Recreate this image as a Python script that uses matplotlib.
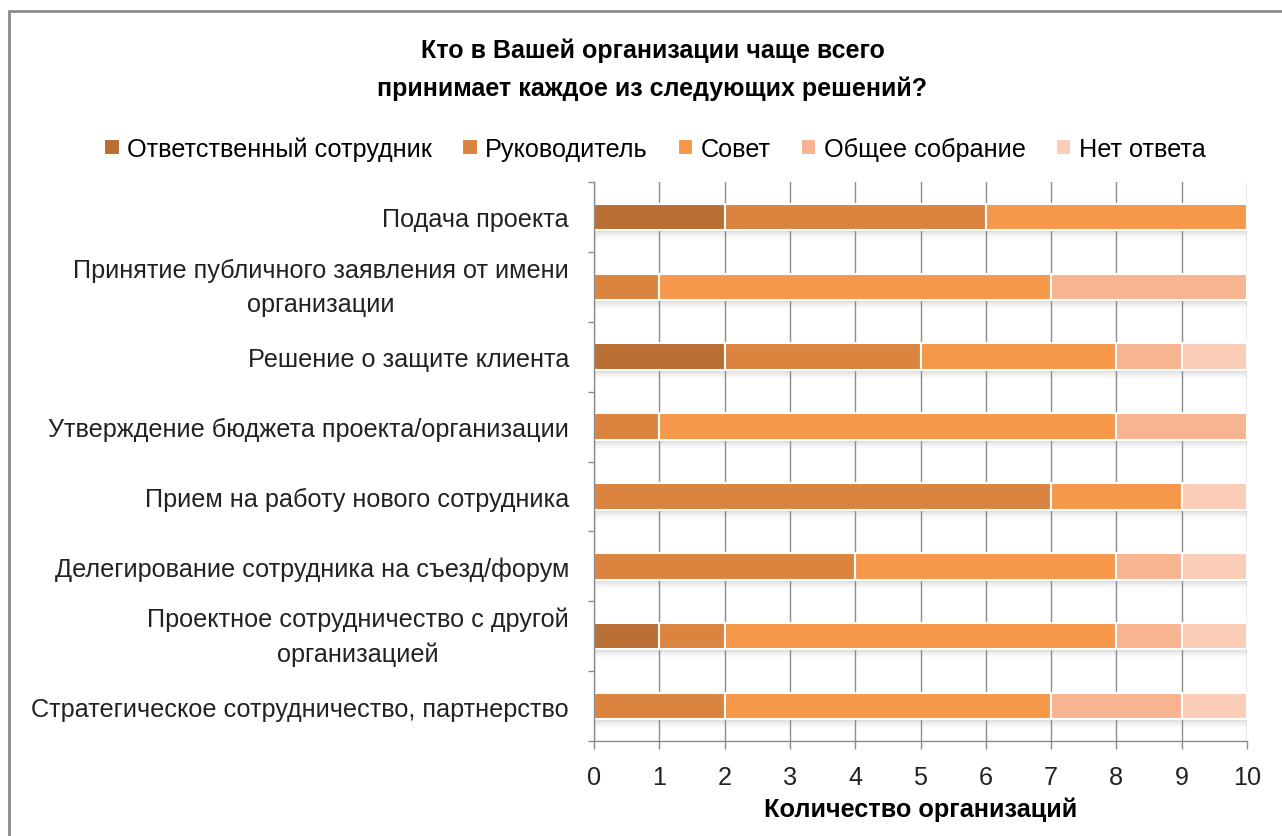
import matplotlib.pyplot as plt
import numpy as np
from matplotlib.patches import Rectangle

plt.rcParams["font.family"] = ["Liberation Sans", "DejaVu Sans"]

categories = [
    "Подача проекта",
    "Принятие публичного заявления от имени\nорганизации",
    "Решение о защите клиента",
    "Утверждение бюджета проекта/организации",
    "Прием на работу нового сотрудника",
    "Делегирование сотрудника на съезд/форум",
    "Проектное сотрудничество с другой\nорганизацией",
    "Стратегическое сотрудничество, партнерство",
]
series_names = ["Ответственный сотрудник", "Руководитель", "Совет", "Общее собрание", "Нет ответа"]
responsible = [2, 0, 2, 0, 0, 0, 1, 0]
manager = [4, 1, 3, 1, 7, 4, 1, 2]
board = [4, 6, 3, 7, 2, 4, 6, 5]
assembly = [0, 3, 1, 2, 0, 1, 1, 2]
no_answer = [0, 0, 1, 0, 1, 1, 1, 1]
xticks = list(range(0, 11))

colors = ["#B96E33", "#DB8440", "#F6984A", "#F8B490", "#FBCDB6"]
FS = 18.2

fig = plt.figure(figsize=(12.82, 8.37), dpi=100)
ax = fig.add_axes([594 / 1282, 1 - 742 / 837, (1247 - 594) / 1282, (742 - 183) / 837])

y = np.arange(len(categories))
h = 0.38
data = [responsible, manager, board, assembly, no_answer]
totals = np.sum(np.array(data), axis=0)

# soft shadow under bars
px = 1 / 69.9
for k, a in enumerate([0.22, 0.14, 0.08, 0.04]):
    ax.barh(y + h / 2 + (k + 0.5) * 2 * px, totals, height=2 * px, color="#606060",
            alpha=a, linewidth=0, zorder=0.4)

left = np.zeros(len(categories))
for vals, name, c in zip(data, series_names, colors):
    vals = np.array(vals)
    ax.barh(y, vals, height=h, left=left, color=c, edgecolor="white", linewidth=1.5,
            label=name, zorder=2)
    left += vals

ax.set_xlim(0, 10)
ax.set_ylim(len(categories) - 0.5, -0.5)
ax.set_xticks(xticks)
ax.set_yticks(y)
ax.set_yticklabels(categories, fontsize=FS, color="#222222")
for lbl in ax.get_yticklabels():
    lbl.set_multialignment("center")
    lbl.set_linespacing(1.55)
    if "\n" in lbl.get_text():
        lbl.set_va("center")
ax.set_yticks(np.arange(-0.5, len(categories)), minor=True)
ax.tick_params(axis="y", which="major", length=0, pad=18)
ax.tick_params(axis="y", which="minor", length=4.5, color="#8c8c8c", width=1)
ax.tick_params(axis="x", length=6, color="#8c8c8c", width=1, labelsize=FS,
               labelcolor="#222222", pad=11)

for s in ["top", "right"]:
    ax.spines[s].set_visible(False)
for s in ["left", "bottom"]:
    ax.spines[s].set_color("#8c8c8c")
    ax.spines[s].set_linewidth(1)

ax.xaxis.grid(True, color="#8c8c8c", linewidth=1)
ax.set_axisbelow(True)

ax.set_xlabel("Количество организаций", fontsize=FS, fontweight="bold", labelpad=6)

fig.text(0.509, 1 - 69.5 / 837, "Кто в Вашей организации чаще всего\nпринимает каждое из следующих решений?",
         ha="center", va="center", fontsize=18, fontweight="bold", linespacing=1.68)

fig.legend(loc="center", bbox_to_anchor=(0.511, 1 - 150 / 837), ncol=5, frameon=False,
           fontsize=FS, handlelength=0.6, handleheight=0.6, handletextpad=0.3,
           columnspacing=1.2)

fig.patches.append(Rectangle((9 / 1282, -0.1), 1.2, 1 - 12 / 837 + 0.1, transform=fig.transFigure,
                             fill=False, edgecolor="#8c8c8c", linewidth=2))

plt.savefig("out.png", dpi=100)
